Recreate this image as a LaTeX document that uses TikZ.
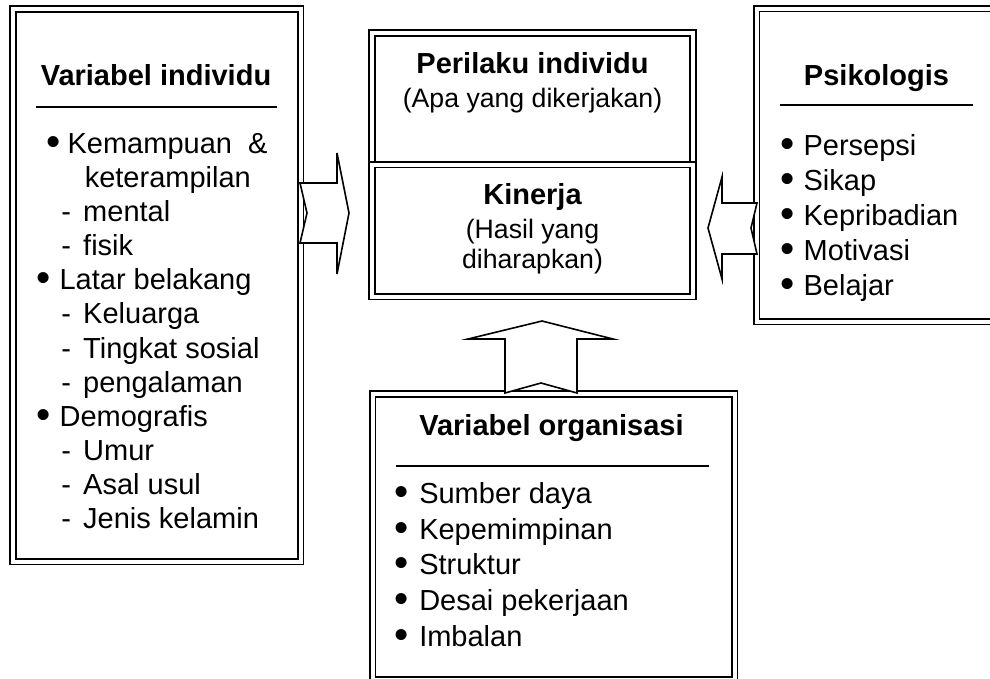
\documentclass[tikz,border=0pt]{standalone}
\usepackage{fontspec}
\setmainfont{Liberation Sans}
\usepackage{graphicx}
\usetikzlibrary{fit}

\newcommand{\bdot}{\raisebox{-1.6pt}{\scalebox{1.4}{\textbullet}}}
\newcommand{\blt}[1][17.5pt]{\makebox[#1][l]{\bdot}}
\newcommand{\dsh}{\hspace*{18.75pt}\makebox[16.5pt][l]{-}}

\begin{document}
\begin{tikzpicture}[x=0.75pt, y=-0.75pt,
        panel/.style={draw, double, line width=1.45pt, double distance=3pt, inner sep=0pt},
        heading/.style={font=\fontsize{21.75}{25}\selectfont\bfseries, inner sep=0pt, anchor=base},
        note/.style={font=\fontsize{20}{22.5}\selectfont, inner sep=0pt, align=center},
        itemlist/.style={align=left, inner sep=0pt, anchor=north west},
        rule/.style={line width=1.3pt},
        blockarrow/.style={draw, fill=white, line width=1.2pt, line join=miter}
    ]
        \clip (0,0) rectangle (990,679);
        \node[panel, fit={(13,9) (300.5,561.5)}] (indiv) {};
        \node[panel, fit={(372,33) (693,164.5)}] (perilaku) {};
        \node[panel, fit={(372,164.5) (693,296.5)}] (kinerja) {};
        \node[panel, fit={(756.5,8.5) (1005,321.5)}] (psiko) {};
        \node[panel, fit={(372.5,394) (734.5,679.5)}] (organ) {};

        \node[heading] (indivtitle) at (156,85) {Variabel individu};
        \draw[rule] (36,107) -- (277,107);
        \node[itemlist, font=\fontsize{21.75}{25.6}\selectfont] (indivlist) at (36,129.1) {\hspace*{7.5pt}\blt[16pt]Kemampuan \ \&\strut\\
            \hspace*{36.4pt}keterampilan\\
            \dsh mental\\
            \dsh fisik\\
            \blt Latar belakang\\
            \dsh Keluarga\\
            \dsh Tingkat sosial\\
            \dsh pengalaman\\
            \blt Demografis\\
            \dsh Umur\\
            \dsh Asal usul\\
            \dsh Jenis kelamin};

        \node[heading] (perilakutitle) at (532.5,73) {Perilaku individu};
        \node[note, anchor=base] (perilakunote) at (532.5,107) {(Apa yang dikerjakan)};
        \node[heading] (kinerjatitle) at (532.5,204) {Kinerja};
        \node[note, anchor=north] (kinerjanote) at (532.5,217) {\strut(Hasil yang\\diharapkan)};

        \node[heading] (psikotitle) at (876.5,85) {Psikologis};
        \draw[rule] (780,105) -- (973,105);
        \node[itemlist, font=\fontsize{21.75}{26.25}\selectfont] (psikolist) at (780,130.5) {\blt Persepsi\strut\\
            \blt Sikap\\
            \blt Kepribadian\\
            \blt Motivasi\\
            \blt Belajar};

        \node[heading] (organtitle) at (551.5,435) {Variabel organisasi};
        \draw[rule] (396,466) -- (709,466);
        \node[itemlist, font=\fontsize{21.75}{26.8}\selectfont] (organlist) at (394,478) {\blt[18.75pt]Sumber daya\strut\\
            \blt[18.75pt]Kepemimpinan\\
            \blt[18.75pt]Struktur\\
            \blt[18.75pt]Desai pekerjaan\\
            \blt[18.75pt]Imbalan};

        \draw[blockarrow] (300,183) -- (337,183) -- (337,153) -- (349,213) -- (337,274) -- (337,243) -- (300,243) -- (307,213) -- cycle;
        \draw[blockarrow] (757,203) -- (722,203) -- (722,177) -- (708,228) -- (722,279) -- (722,254) -- (757,254) -- (751,228) -- cycle;
        \draw[blockarrow] (505,393) -- (505,339) -- (468,339) -- (542,321) -- (613,339) -- (577,339) -- (577,393) -- (541,383) -- cycle;
    \end{tikzpicture}
\end{document}
